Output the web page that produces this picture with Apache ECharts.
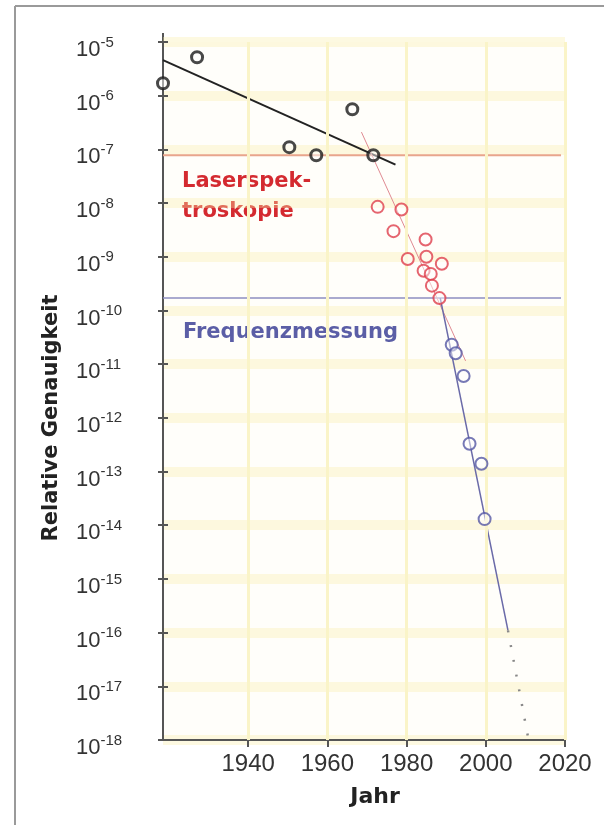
<!DOCTYPE html>
<html>
<head>
<meta charset="utf-8">
<script src="https://cdn.jsdelivr.net/npm/echarts@6/dist/echarts.min.js"></script>
<style>
  html, body { margin: 0; padding: 0; background: #fff; }
  #chart { width: 604px; height: 825px; }
</style>
</head>
<body>
<div id="chart"></div>
<script>
// early measurements (black)
var oldYears = [1918.5, 1927.1, 1950.4, 1957.2, 1966.3, 1971.6];
var oldValues = [1.7e-6, 5.2e-6, 1.1e-7, 7.8e-8, 5.6e-7, 7.8e-8];

// laser spectroscopy (red)
var laserYears = [1972.7, 1978.7, 1976.7, 1984.8, 1980.3, 1985.0, 1988.9, 1984.3, 1986.1, 1986.4, 1988.3];
var laserValues = [8.5e-9, 7.6e-9, 3.0e-9, 2.1e-9, 9.1e-10, 1.0e-9, 7.4e-10, 5.5e-10, 4.8e-10, 2.9e-10, 1.7e-10];

// frequency measurement (blue)
var freqYears = [1991.4, 1992.4, 1994.4, 1995.9, 1998.9, 1999.7];
var freqValues = [2.3e-11, 1.6e-11, 6.0e-12, 3.3e-13, 1.4e-13, 1.3e-14];

// trend lines
var oldTrend = [[1918.5, 4.6e-6], [1977.2, 5.2e-8]];
var laserTrend = [[1968.6, 2.1e-7], [1994.9, 1.15e-11]];
var freqTrend = [[1988.5, 1.7e-10], [2005.6, 1.1e-16]];
var extrapolation = [[2005.6, 1.1e-16], [2010.6, 1.2e-18]];
var laserLimit = [[1918.5, 7.8e-8], [2019, 7.8e-8]];
var freqLimit = [[1918.5, 1.7e-10], [2019, 1.7e-10]];

var yearTicks = [1940, 1960, 1980, 2000, 2020];

function pairs(xs, ys) {
  return xs.map(function (x, i) { return [x, ys[i]]; });
}

var chart = echarts.init(document.getElementById('chart'));

var option = {
  backgroundColor: '#fff',
  animation: false,
  grid: {
    left: 163, right: 39, top: 42, bottom: 85,
    show: true, backgroundColor: '#fffefa', borderWidth: 0
  },
  xAxis: [{
    type: 'value', min: 1918.5, max: 2020,
    axisLine: { lineStyle: { color: '#555', width: 2 } },
    axisTick: { customValues: yearTicks, length: 7, lineStyle: { color: '#555', width: 2 } },
    axisLabel: {
      customValues: yearTicks, margin: 12,
      formatter: function (v) { return String(v); },
      fontFamily: 'Liberation Sans', fontSize: 24, color: '#333'
    },
    splitLine: { show: false }
  }, {
    type: 'value', min: 1918.5, max: 2020, position: 'bottom',
    axisLine: { show: false },
    axisTick: { customValues: yearTicks, inside: true, length: 7, lineStyle: { color: '#555', width: 2 } },
    axisLabel: { show: false },
    splitLine: { show: false }
  }],
  yAxis: [{
    type: 'log', logBase: 10, min: 1e-18, max: 1e-5, interval: 1, splitNumber: 13,
    position: 'left',
    axisLine: { lineStyle: { color: '#555', width: 2 } },
    axisTick: { length: 5, lineStyle: { color: '#555', width: 2 } },
    axisLabel: {
      align: 'left', margin: 87, padding: [12, 0, 0, 0],
      formatter: function (v) {
        var e = Math.round(Math.log10(v));
        return '{b|10}{s|' + e + '}';
      },
      rich: {
        b: { fontFamily: 'Liberation Sans', fontSize: 22, color: '#333', lineHeight: 26, verticalAlign: 'bottom' },
        s: { fontFamily: 'Liberation Sans', fontSize: 15, color: '#333', lineHeight: 14, verticalAlign: 'top' }
      }
    },
    splitLine: { show: true, lineStyle: { color: 'rgba(250,238,170,0.35)', width: 10 } }
  }, {
    type: 'log', logBase: 10, min: 1e-18, max: 1e-5, interval: 1, splitNumber: 13,
    position: 'left',
    axisLine: { show: false },
    axisTick: { inside: true, length: 5, lineStyle: { color: '#555', width: 2 } },
    axisLabel: { show: false },
    splitLine: { show: false }
  }],
  graphic: [
    { type: 'line', shape: { x1: 15, y1: 6, x2: 604, y2: 6 }, style: { stroke: '#9a9a9a', lineWidth: 2 } },
    { type: 'line', shape: { x1: 15, y1: 6, x2: 15, y2: 825 }, style: { stroke: '#9a9a9a', lineWidth: 2 } },
    { type: 'line', shape: { x1: 163, y1: 33, x2: 163, y2: 42 }, style: { stroke: '#555', lineWidth: 2 } },
    { type: 'text', x: 182, y: 182, style: { text: 'Laserspek-', fill: '#d42a30', font: 'bold 21px "DejaVu Sans"', verticalAlign: 'middle' } },
    { type: 'text', x: 182, y: 212, style: { text: 'troskopie', fill: '#d42a30', font: 'bold 21px "DejaVu Sans"', verticalAlign: 'middle' } },
    { type: 'text', x: 183, y: 333, style: { text: 'Frequenzmessung', fill: '#5b5ea6', font: 'bold 21px "DejaVu Sans"', verticalAlign: 'middle' } },
    { type: 'text', x: 375, y: 797, style: { text: 'Jahr', fill: '#222', font: 'bold 22px "DejaVu Sans"', align: 'center', verticalAlign: 'middle' } },
    { type: 'text', x: 52, y: 418, rotation: Math.PI / 2, style: { text: 'Relative Genauigkeit', fill: '#222', font: 'bold 21px "DejaVu Sans"', align: 'center', verticalAlign: 'middle' } }
  ],
  series: [{
    type: 'line', data: [], z: 1, silent: true,
    markLine: {
      silent: true, symbol: 'none', label: { show: false },
      lineStyle: { color: '#faf4c8', width: 3, type: 'solid' },
      data: yearTicks.map(function (y) { return { xAxis: y }; })
    }
  }, {
    type: 'line', data: laserLimit, symbol: 'none', z: 2,
    lineStyle: { color: '#e8a58c', width: 2 }
  }, {
    type: 'line', data: freqLimit, symbol: 'none', z: 2,
    lineStyle: { color: '#8e8ec0', width: 1.5 }
  }, {
    type: 'line', data: oldTrend, symbol: 'none', z: 3,
    lineStyle: { color: '#222', width: 2 }
  }, {
    type: 'line', data: laserTrend, symbol: 'none', z: 3,
    lineStyle: { color: '#e08a92', width: 1 }
  }, {
    type: 'line', data: freqTrend, symbol: 'none', z: 3,
    lineStyle: { color: '#6a6aa8', width: 1.5 }
  }, {
    type: 'line', data: extrapolation, symbol: 'none', z: 3,
    lineStyle: { color: '#888', width: 2.5, type: [2, 13] }
  }, {
    type: 'scatter', data: pairs(oldYears, oldValues), z: 5,
    symbol: 'circle', symbolSize: 11,
    itemStyle: { color: 'rgba(255,255,255,0.6)', borderColor: '#1a1a1a', borderWidth: 3 }
  }, {
    type: 'scatter', data: pairs(laserYears, laserValues), z: 5,
    symbol: 'circle', symbolSize: 12,
    itemStyle: { color: 'rgba(255,255,255,0.6)', borderColor: '#de3f4c', borderWidth: 2 }
  }, {
    type: 'scatter', data: pairs(freqYears, freqValues), z: 5,
    symbol: 'circle', symbolSize: 12,
    itemStyle: { color: 'rgba(255,255,255,0.6)', borderColor: '#5558a4', borderWidth: 2 }
  }]
};

chart.setOption(option);
</script>
</body>
</html>
